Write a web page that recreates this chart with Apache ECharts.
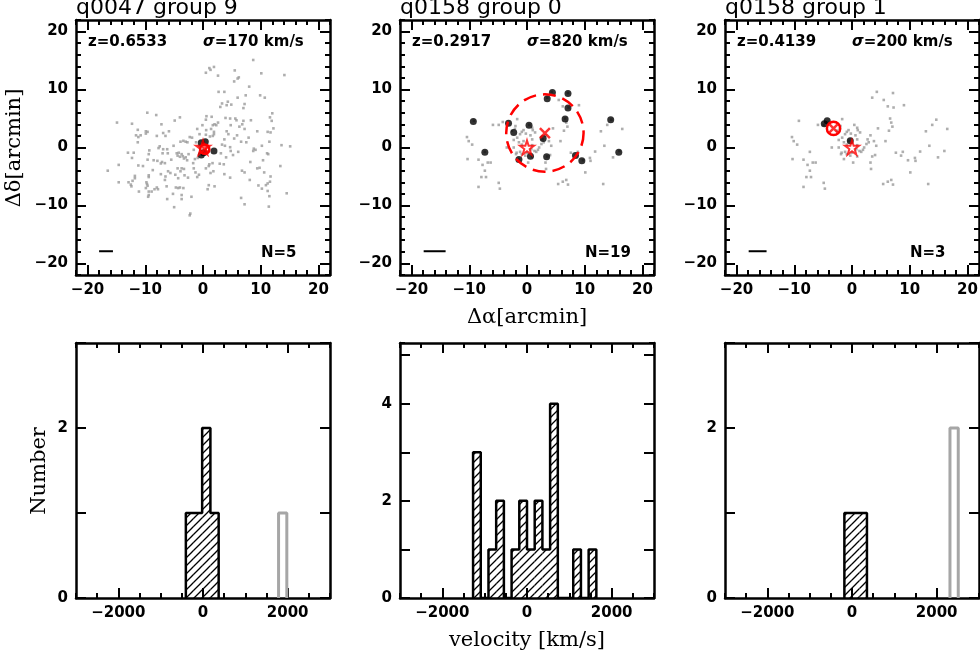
<!DOCTYPE html>
<html>
<head>
<meta charset="utf-8">
<script src="https://cdn.jsdelivr.net/npm/echarts@6/dist/echarts.min.js"></script>
<style>
  html, body { margin: 0; padding: 0; background: #fff; }
  #main { width: 980px; height: 653px; }
</style>
</head>
<body>
<div id="main"></div>
<script>
// panel headers
var titles = ['q0047 group 9', 'q0158 group 0', 'q0158 group 1'];
var redshifts = ['0.6533', '0.2917', '0.4139'];
var sigmas = [170, 820, 200];
var members = [5, 19, 3];

// field galaxies (gray), arcmin offsets from the quasar
var fieldQ0047 = [
  [8.7,15.1],[1.9,13.9],[1.1,13.7],[1.3,13.4],[0.5,12.9],[2.6,12.4],[5.5,13.3],[10.1,12.8],[14.1,12.5],[6.2,12.1],
  [6.0,11.9],[5.4,11.4],[8.0,10.5],[2.7,9.6],[3.7,9.6],[6.0,8.6],[7.4,9.0],[9.9,9.0],[10.7,8.6],[4.3,7.9],
  [3.3,7.6],[4.9,7.4],[4.1,7.3],[3.0,7.0],[7.2,7.5],[7.0,6.8],[12.0,5.9],[0.6,5.4],[1.5,5.3],[0.5,4.8],
  [3.9,5.1],[4.7,5.0],[5.6,5.0],[5.8,4.7],[7.0,4.6],[6.8,4.0],[8.3,4.7],[11.6,5.2],[11.9,4.6],[2.6,4.3],
  [2.0,4.0],[2.3,3.85],[1.7,3.85],[-0.1,3.85],[4.8,3.85],[0.55,3.0],[1.4,3.2],[6.3,3.6],[7.2,3.2],[9.4,2.8],
  [11.2,2.7],[11.7,2.6],[12.2,3.3],[1.9,2.7],[1.9,2.3],[1.7,2.0],[1.2,1.9],[0.5,2.2],[4.1,2.8],[4.4,2.3],
  [5.9,2.1],[7.9,1.7],[5.4,1.55],[3.7,1.4],[6.6,1.0],[7.5,0.9],[10.2,0.3],[11.5,1.0],[13.6,0.4],[15.1,0.2],
  [3.3,0.5],[3.8,0.3],[4.7,0.05],[4.8,-0.6],[3.1,-1.0],[5.2,-1.3],[6.1,-0.75],[8.8,-0.2],[9.1,-0.4],[8.7,-0.6],
  [11.1,-1.0],[11.3,-1.15],[4.0,-1.7],[10.4,-2.2],[8.2,-2.5],[1.65,-2.7],[1.1,-2.9],[2.9,-2.8],[3.6,-2.9],[1.0,-3.2],
  [0.5,-3.6],[1.8,-4.1],[1.3,-4.4],[9.4,-3.6],[9.8,-3.5],[6.75,-4.0],[7.2,-4.3],[10.6,-4.3],[13.4,-3.2],[3.7,-4.6],
  [8.1,-5.6],[4.7,-5.2],[11.7,-5.0],[11.6,-5.9],[11.2,-6.2],[10.9,-6.5],[1.0,-6.5],[2.0,-6.7],[0.8,-7.2],[9.6,-6.55],
  [10.2,-7.1],[11.2,-7.5],[11.5,-8.4],[14.5,-7.9],[6.6,-8.7],[7.2,-9.8],[11.4,-10.2],
  [-9.65,6.0],[-8.1,5.6],[-14.9,4.3],[-12.3,4.1],[-4.9,4.65],[-4.0,5.2],[-11.3,3.05],[-9.9,2.8],[-9.6,2.7],[-9.9,2.4],
  [-7.2,4.0],[-5.9,2.8],[-11.6,2.1],[-10.8,2.1],[-11.2,1.8],[-8.0,2.0],[-6.9,2.5],[-6.5,2.0],[-11.3,0.9],[-3.9,1.0],
  [-3.4,1.15],[-3.0,1.0],[-2.7,0.9],[-2.3,1.8],[-1.9,1.7],[-5.1,0.3],[-7.5,0.2],[-7.7,-0.1],[-6.9,-0.3],[-6.2,-0.3],
  [-7.0,-1.0],[-6.1,-1.0],[-9.3,-0.5],[-13.0,-0.9],[-12.0,-0.9],[-9.4,-1.15],[-12.3,-1.8],[-4.55,-1.0],[-4.2,-0.9],[-3.7,-1.15],
  [-4.4,-1.4],[-4.0,-1.6],[-3.5,-1.5],[-3.0,-1.7],[-3.3,-1.9],[-2.75,-2.2],[-2.5,-1.15],[-7.9,-2.3],[-7.1,-2.5],[-6.6,-2.7],
  [-7.3,-2.75],[-5.5,-2.1],[-9.6,-2.1],[-8.55,-2.2],[-11.2,-3.1],[-10.4,-3.2],[-14.6,-3.0],[-16.5,-4.0],[-1.7,-2.7],[-1.6,-3.6],
  [-8.7,-3.9],[-4.4,-3.6],[-3.7,-3.6],[-3.3,-3.7],[-3.9,-4.1],[-1.3,-4.3],[-0.7,-4.7],[-1.0,-5.1],[-9.4,-4.8],[-9.4,-5.1],
  [-7.3,-4.6],[-6.05,-4.1],[-5.65,-4.4],[-6.5,-5.0],[-6.6,-5.6],[-4.8,-4.7],[-4.3,-5.3],[-3.2,-4.8],[-2.6,-5.2],[-11.8,-4.9],
  [-11.8,-5.3],[-14.6,-6.0],[-12.9,-6.0],[-12.5,-6.4],[-12.4,-6.7],[-12.2,-5.75],[-9.8,-6.0],[-9.7,-6.3],[-9.6,-6.6],[-9.9,-7.0],
  [-8.0,-6.9],[-8.4,-7.2],[-11.1,-7.6],[-9.4,-7.6],[-8.9,-7.6],[-9.4,-8.2],[-9.5,-8.5],[-7.8,-7.2],[-6.3,-6.7],[-4.7,-6.9],
  [-4.3,-7.0],[-4.0,-6.9],[-3.4,-7.0],[-5.2,-8.0],[-3.7,-8.2],[-6.2,-8.9],[-3.7,-8.9],[-2.0,-8.5],[-5.0,-10.3],[-2.2,-11.4],
  [-2.3,-11.7],[-1.2,0.9],[-0.7,0.3],[-1.6,-0.4],[-0.9,-1.8],[-1.4,-2.0],[-0.6,2.3],[-1.0,3.2]
];

var fieldQ0158 = [
  [4.3,9.6],[7.1,9.4],[3.5,8.6],[5.5,8.2],[6.2,7.1],[7.2,6.9],[9.0,7.3],[6.6,5.0],[6.8,4.3],[7.0,3.6],
  [6.4,2.9],[4.5,3.3],[5.8,1.1],[-1.7,4.9],[0.4,3.9],[0.9,3.4],[1.4,2.6],[0.6,2.1],[-0.2,2.4],[-0.9,2.7],
  [-1.2,2.3],[-2.1,3.2],[-2.6,2.9],[-1.7,1.7],[-2.3,1.3],[-1.4,0.9],[0.9,1.4],[0.75,-0.3],[1.3,-0.6],[1.9,-0.4],
  [1.6,-0.75],[3.2,2.1],[3.8,1.1],[2.7,1.4],[2.9,0.9],[4.2,0.3],[-0.9,-1.15],[-1.2,-0.75],[-1.9,-1.15],[-1.4,-2.0],
  [0.2,-2.6],[0.9,-1.55],[3.5,-1.55],[3.2,-2.6],[3.3,-3.7],[-3.5,0.0],[-2.3,0.0],[-5.9,3.9],[-9.2,4.6],[-10.4,1.8],
  [-10.1,1.1],[-9.5,0.5],[-10.3,-2.0],[-8.4,-2.1],[-7.3,-0.75],[-7.7,-3.0],[-6.8,-2.6],[-6.3,-2.6],[-7.3,-4.0],[-7.9,-5.1],
  [-7.1,-5.1],[-8.4,-6.8],[-4.9,-6.1],[-4.7,-7.1],[7.6,-0.9],[8.5,-1.4],[8.8,-0.75],[9.7,-2.2],[10.9,-1.8],[11.0,-2.3],
  [10.1,-4.3],[11.8,-0.7],[12.8,2.8],[13.4,0.3],[13.9,3.9],[14.6,4.8],[16.5,3.2],[16.0,-0.6],[14.9,-1.7],[13.2,-6.3],
  [5.4,-6.3],[6.2,-5.9],[6.8,-5.6],[7.1,-6.4],[-4.9,3.9],[-4.2,4.4],[-2.0,3.7],[-0.6,3.0],[1.0,3.0],[2.5,0.6],
  [2.1,0.0],[4.0,-1.3],[-0.3,-1.4],[-0.6,1.1],[-1.8,-0.9],[0.0,-0.9],[-0.9,0.5],[0.9,0.4]
];

// spectroscopic group members (black)
var membersQ0047g9 = [[-0.3,0.8],[0.4,1.0],[-0.3,-1.3],[0.1,-0.9],[1.9,-0.6]];
var membersQ0158g0 = [
  [4.4,9.5],[7.1,9.3],[3.5,8.4],[7.1,6.8],[-9.3,4.5],[6.6,4.9],[14.5,4.8],[-3.2,4.2],[0.35,3.85],
  [-2.3,2.6],[2.8,1.55],[-7.3,-0.8],[15.9,-0.8],[0.6,-1.5],[3.4,-1.6],[-1.4,-2.07],[8.4,-1.4],[9.5,-2.3]
];
var membersQ0158g1 = [[-4.3,4.6],[-4.8,4.1],[-0.3,1.15]];

// quasar position (star), group centroid (x) and circle radius (arcmin)
var quasarPos = [[0,0],[0,0],[0,0]];
var groupCentre = [[0.3,-0.3],[3.1,2.5],[-3.2,3.3]];
var groupRadius = [0.8, 6.7, 1.15];
var circleDashed = [false, true, false];
// scale bar: [x start, x end, y]
var scaleBars = [[-18.0,-15.6,-17.9],[-17.9,-14.1,-17.9],[-17.9,-14.8,-17.9]];

// velocity histograms: [low, high, count]
var velMembers1 = [[-405,-215,1],[-215,-20,1],[-20,175,2],[175,370,1]];
var velOthers1 = [[1785,1980,1]];
var velMembers2 = [[-1274,-1092,3],[-910,-728,1],[-728,-546,2],[-364,-182,1],[-182,0,2],[0,182,1],
                   [182,364,2],[364,546,1],[546,728,4],[1092,1274,1],[1456,1638,1]];
var velOthers2 = [];
var velMembers3 = [[-180,-2,1],[-2,176,1],[176,353,1]];
var velOthers3 = [[2314,2510,2]];
var histMax = [3, 5.25, 3];
var histYLabels = [[0,2],[0,2,4],[0,2]];

var posTicks = [-20,-10,0,10,20];
var velTicks = [-2000,0,2000];

var FONT = 'DejaVu Sans';
var gridLeft = [76, 400, 725];
var STAR = 'path://M50,2L61,36L97,36L68,57L79,92L50,71L21,92L32,57L3,36L39,36Z';
var CROSS = 'path://M0,0L10,10M10,0L0,10';

// hatch fill
var hatch = document.createElement('canvas');
hatch.width = 8; hatch.height = 8;
var hc = hatch.getContext('2d');
hc.strokeStyle = '#000';
hc.lineWidth = 1.3;
hc.beginPath();
hc.moveTo(-1,9); hc.lineTo(9,-1);
hc.moveTo(-1,1); hc.lineTo(1,-1);
hc.moveTo(7,9); hc.lineTo(9,7);
hc.stroke();
var hatchFill = {image: hatch, repeat: 'repeat'};

function fmt(v) { return String(v).replace('-', '\u2212'); }

function makeAxes(gi, dir, min, max, majors, minorStep, labels) {
  var sides = dir === 'x' ? ['bottom','top'] : ['left','right'];
  var out = [];
  sides.forEach(function (side, k) {
    out.push({
      type: 'value', gridIndex: gi, position: side, min: min, max: max,
      axisLine: {show: true, onZero: false, lineStyle: {color: '#000', width: 2.5}},
      axisTick: {show: true, inside: true, length: 10, lineStyle: {color: '#000', width: 2}, customValues: majors},
      axisLabel: k === 0 ? {show: true, customValues: labels, formatter: fmt, margin: 8, color: '#000',
                            fontFamily: FONT, fontWeight: 'bold', fontSize: 15} : {show: false},
      splitLine: {show: false}
    });
    out.push({
      type: 'value', gridIndex: gi, position: side, min: min, max: max, interval: minorStep,
      axisLine: {show: false, onZero: false},
      axisTick: {show: true, inside: true, length: 5, lineStyle: {color: '#000', width: 2}},
      axisLabel: {show: false},
      splitLine: {show: false}
    });
  });
  return out;
}

function outline(bins) {
  var pts = [];
  var prevHi = null;
  bins.forEach(function (b) {
    if (prevHi === null || b[0] > prevHi + 1) {
      if (prevHi !== null) pts.push([prevHi, 0]);
      pts.push([b[0], 0]);
    }
    pts.push([b[0], b[2]]);
    pts.push([b[1], b[2]]);
    prevHi = b[1];
  });
  if (prevHi !== null) pts.push([prevHi, 0]);
  return pts;
}

var grids = [], xAxes = [], yAxes = [], series = [], graphics = [];
var fields = [fieldQ0047, fieldQ0158, fieldQ0158];
var groups = [membersQ0047g9, membersQ0158g0, membersQ0158g1];
var velMembers = [velMembers1, velMembers2, velMembers3];
var velOthers = [velOthers1, velOthers2, velOthers3];

// sky panels: grids 0..2
for (var c = 0; c < 3; c++) {
  var gi = c;
  grids.push({left: gridLeft[c], top: 20, width: 254, height: 255, outerBoundsMode: 'none'});
  xAxes = xAxes.concat(makeAxes(gi, 'x', -22, 22, posTicks, 2, posTicks));
  yAxes = yAxes.concat(makeAxes(gi, 'y', -22, 22, posTicks, 2, posTicks));
  var ax = gi * 4;
  series.push({type: 'scatter', xAxisIndex: ax, yAxisIndex: ax, data: fields[c], symbol: 'rect',
    symbolSize: 2.6, itemStyle: {color: '#9a9a9a'}, z: 2, silent: true});
  series.push({type: 'scatter', xAxisIndex: ax, yAxisIndex: ax, data: groups[c], symbol: 'circle',
    symbolSize: 7, itemStyle: {color: '#000'}, z: 3, silent: true});
  series.push({type: 'custom', xAxisIndex: ax, yAxisIndex: ax, z: 4, silent: true,
    data: [[groupCentre[c][0], groupCentre[c][1], groupRadius[c]]],
    renderItem: (function (dashed) {
      return function (params, api) {
        var p = api.coord([api.value(0), api.value(1)]);
        var r = api.size([api.value(2), 0])[0];
        return {type: 'circle', shape: {cx: p[0], cy: p[1], r: r},
          style: {fill: 'none', stroke: '#ff0000', lineWidth: 2.5, lineDash: dashed ? [13, 7] : null}};
      };
    })(circleDashed[c])});
  series.push({type: 'scatter', xAxisIndex: ax, yAxisIndex: ax, data: [groupCentre[c]], symbol: CROSS,
    symbolSize: c === 1 ? 10 : 8, itemStyle: {color: 'rgba(0,0,0,0)', borderColor: '#ff0000', borderWidth: 2.5}, z: 5, silent: true});
  series.push({type: 'scatter', xAxisIndex: ax, yAxisIndex: ax, data: [quasarPos[c]], symbol: STAR,
    symbolSize: 14, itemStyle: {color: 'rgba(0,0,0,0)', borderColor: '#ff0000', borderWidth: 2}, z: 5, silent: true});
  series.push({type: 'line', xAxisIndex: ax, yAxisIndex: ax, symbol: 'none', silent: true,
    data: [[scaleBars[c][0], scaleBars[c][2]], [scaleBars[c][1], scaleBars[c][2]]],
    lineStyle: {color: '#000', width: 2}});

  var L = gridLeft[c];
  graphics.push({type: 'text', x: L, y: 8, style: {text: titles[c], font: '22px ' + FONT,
    fill: '#000', align: 'left', verticalAlign: 'middle'}});
  graphics.push({type: 'text', x: L + 12, y: 42, style: {text: 'z=' + redshifts[c],
    font: 'bold 15px ' + FONT, fill: '#000', align: 'left', verticalAlign: 'middle'}});
  graphics.push({type: 'text', x: L + 127, y: 42, style: {text: '{s|\u03c3}=' + sigmas[c] + ' km/s',
    font: 'bold 15px ' + FONT, fill: '#000', align: 'left', verticalAlign: 'middle',
    rich: {s: {fontStyle: 'italic', fontWeight: 'bold', fontSize: 15, fontFamily: FONT, fill: '#000'}}}});
  graphics.push({type: 'text', x: L + 185, y: 253, style: {text: 'N=' + members[c],
    font: 'bold 15px ' + FONT, fill: '#000', align: 'left', verticalAlign: 'middle'}});
}

// velocity panels: grids 3..5
for (var c2 = 0; c2 < 3; c2++) {
  var gv = c2 + 3;
  grids.push({left: gridLeft[c2], top: 343, width: 254, height: 255, outerBoundsMode: 'none'});
  var yt = [];
  for (var k = 0; k <= Math.floor(histMax[c2]); k++) yt.push(k);
  xAxes = xAxes.concat(makeAxes(gv, 'x', -3000, 3000, velTicks, 500, velTicks));
  yAxes = yAxes.concat(makeAxes(gv, 'y', 0, histMax[c2], yt, 1, histYLabels[c2]));
  var av = gv * 4;
  series.push({type: 'custom', xAxisIndex: av, yAxisIndex: av, z: 2, silent: true,
    data: velMembers[c2],
    renderItem: function (params, api) {
      var p0 = api.coord([api.value(0), api.value(2)]);
      var p1 = api.coord([api.value(1), 0]);
      return {type: 'rect', shape: {x: p0[0], y: p0[1], width: p1[0] - p0[0], height: p1[1] - p0[1]},
        style: {fill: hatchFill, stroke: null}};
    }});
  series.push({type: 'line', xAxisIndex: av, yAxisIndex: av, symbol: 'none', silent: true, z: 3,
    data: outline(velMembers[c2]), lineStyle: {color: '#000', width: 2.5}});
  if (velOthers[c2].length) {
    series.push({type: 'line', xAxisIndex: av, yAxisIndex: av, symbol: 'none', silent: true, z: 3,
      data: outline(velOthers[c2]), lineStyle: {color: '#a6a6a6', width: 3}});
  }
}

graphics.push({type: 'text', x: 15, y: 148, rotation: Math.PI / 2, style: {text: '\u0394\u03b4[arcmin]',
  font: '21px DejaVu Serif', fill: '#000', align: 'center', verticalAlign: 'middle'}});
graphics.push({type: 'text', x: 527, y: 318, style: {text: '\u0394\u03b1[arcmin]',
  font: '21px DejaVu Serif', fill: '#000', align: 'center', verticalAlign: 'middle'}});
graphics.push({type: 'text', x: 40, y: 471, rotation: Math.PI / 2, style: {text: 'Number',
  font: '21px DejaVu Serif', fill: '#000', align: 'center', verticalAlign: 'middle'}});
graphics.push({type: 'text', x: 527, y: 641, style: {text: 'velocity [km/s]',
  font: '21px DejaVu Serif', fill: '#000', align: 'center', verticalAlign: 'middle'}});

var chart = echarts.init(document.getElementById('main'));
chart.setOption({
  animation: false,
  backgroundColor: '#fff',
  grid: grids,
  xAxis: xAxes,
  yAxis: yAxes,
  series: series,
  graphic: graphics
});
</script>
</body>
</html>
